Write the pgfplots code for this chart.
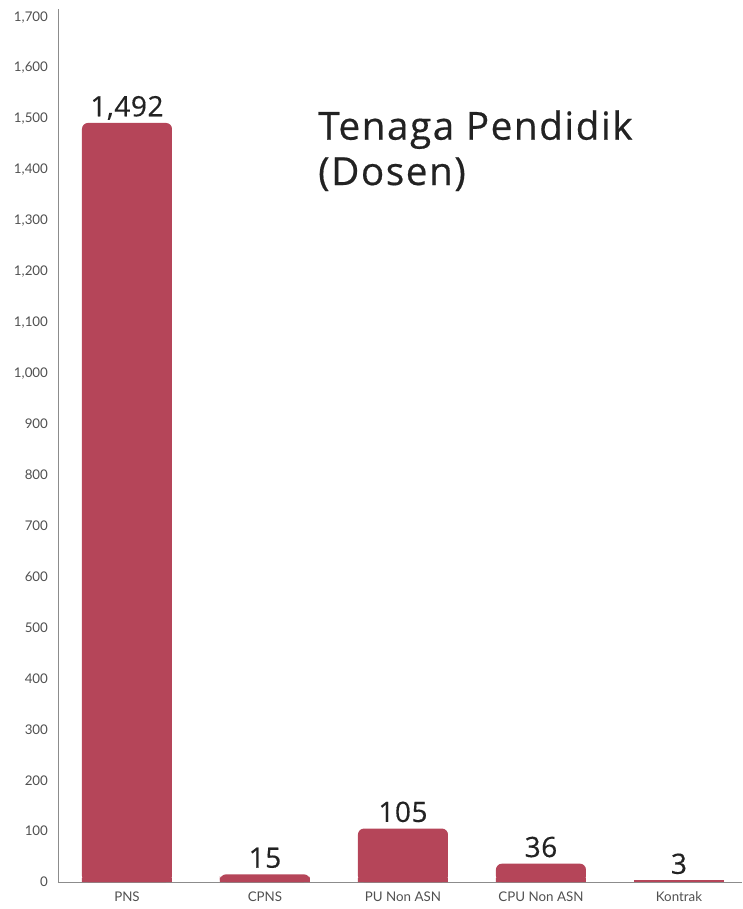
\documentclass[border=0pt]{standalone}
\usepackage{fontspec}
\setmainfont{Lato}
\newfontfamily\titlefont{Open Sans}[LetterSpace=4, FakeBold=0.5]
\newfontfamily\valfont{Open Sans}[LetterSpace=2, FakeBold=0.4]
\usepackage{pgfplots}
\pgfplotsset{compat=1.18}
\definecolor{barc}{RGB}{181,69,89}
\definecolor{tickc}{RGB}{80,80,80}
\definecolor{axc}{RGB}{140,140,140}
\definecolor{labc}{RGB}{34,34,34}
\begin{document}
\begin{tikzpicture}
\begin{axis}[
  name=ax,
  scale only axis,
  width=513pt, height=654.75pt,
  xmin=-0.5, xmax=4.457,
  ymin=0, ymax=1716,
  axis x line=bottom, axis y line=left,
  axis line style={-, draw=axc, line width=0.6pt},
  major tick length=0pt,
  ytick={0,100,...,1700},
  xtick={0,1,2,3,4},
  xticklabels={PNS,CPNS,PU Non ASN,CPU Non ASN,Kontrak},
  /pgf/number format/assume math mode=true,
  /pgf/number format/1000 sep={,},
  tick label style={font=\fontsize{10}{12}\selectfont, text=tickc},
  yticklabel style={xshift=-4pt},
  xticklabel style={yshift=-4pt},
  ybar, bar width=67.5pt,
  clip=false,
]
\addplot[ybar, bar shift=0pt, fill=barc, draw=none, rounded corners=4.5pt,
  nodes near coords,
  every node near coord/.append style={anchor=base, inner sep=0pt, yshift=5pt,
    font=\valfont\fontsize{21}{24}\selectfont, text=labc,
    /pgf/number format/1000 sep={,}, /pgf/number format/assume math mode=true}]
  coordinates {(0,1492) (1,15) (2,105) (3,36)};
\addplot[ybar, bar shift=0pt, fill=barc, draw=none]
  coordinates {(0,8) (1,8) (2,8) (3,8)};
\addplot[ybar, bar shift=0pt, fill=barc, draw=none,
  nodes near coords,
  every node near coord/.append style={anchor=base, inner sep=0pt, yshift=5pt,
    font=\valfont\fontsize{21}{24}\selectfont, text=labc,
    /pgf/number format/assume math mode=true}]
  coordinates {(4,3)};
\node[anchor=base west, align=left, inner sep=0pt, text=labc,
  font=\titlefont\fontsize{29}{34}\selectfont]
  at (axis cs:1.384,1370) {Tenaga Pendidik\\(Dosen)};
\end{axis}
\pgfresetboundingbox
\path[use as bounding box] ([xshift=-43.5pt,yshift=-20.25pt]ax.south west) rectangle ([yshift=6.75pt]ax.north east);
\end{tikzpicture}
\end{document}
